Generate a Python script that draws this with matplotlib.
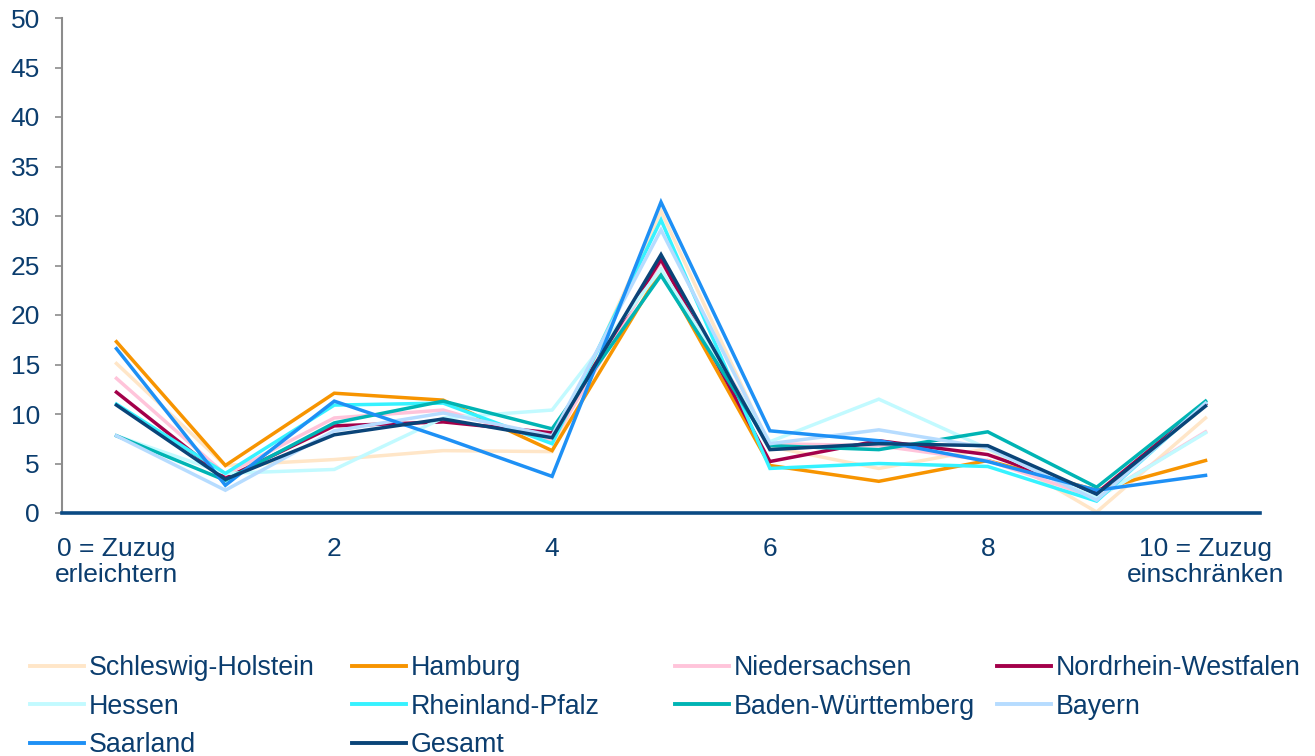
import matplotlib
matplotlib.use("Agg")
import matplotlib.pyplot as plt
from matplotlib.lines import Line2D

plt.rcParams['font.family'] = ['Liberation Sans', 'DejaVu Sans']

scale = list(range(11))
tick_labels = {0: "0 = Zuzug\nerleichtern", 2: "2", 4: "4", 6: "6", 8: "8",
               10: "10 = Zuzug\neinschränken"}

schleswig_holstein = [15.1, 4.8, 5.4, 6.3, 6.2, 30.5, 6.7, 4.5, 6.5, 0.1, 9.6]
hamburg = [17.3, 4.8, 12.1, 11.4, 6.3, 24.5, 4.8, 3.2, 5.3, 2.3, 5.3]
niedersachsen = [13.6, 3.9, 9.6, 10.4, 7.2, 25.4, 7.0, 6.8, 5.3, 1.5, 8.2]
nordrhein_westfalen = [12.2, 3.5, 8.8, 9.2, 8.1, 25.6, 5.2, 7.3, 5.9, 2.0, 11.0]
hessen = [7.8, 4.0, 4.4, 9.6, 10.4, 24.6, 7.2, 11.5, 6.5, 1.5, 8.1]
rheinland_pfalz = [11.0, 4.0, 10.9, 11.1, 7.0, 29.6, 4.5, 5.0, 4.7, 1.2, 11.1]
baden_wuerttemberg = [7.8, 3.3, 9.1, 11.3, 8.5, 24.0, 6.8, 6.4, 8.2, 2.6, 11.3]
bayern = [7.8, 2.3, 8.3, 10.1, 7.8, 28.6, 7.0, 8.4, 6.6, 1.3, 11.1]
saarland = [16.6, 2.8, 11.3, 7.6, 3.7, 31.4, 8.3, 7.3, 5.2, 2.3, 3.8]
gesamt = [10.9, 3.4, 7.9, 9.5, 7.6, 26.1, 6.4, 7.0, 6.8, 1.9, 10.8]

series = [
    ("Schleswig-Holstein", schleswig_holstein, "#FFE6C8"),
    ("Hamburg", hamburg, "#F79400"),
    ("Niedersachsen", niedersachsen, "#FFC4DA"),
    ("Nordrhein-Westfalen", nordrhein_westfalen, "#A3004A"),
    ("Hessen", hessen, "#C2FAFF"),
    ("Rheinland-Pfalz", rheinland_pfalz, "#36F2FF"),
    ("Baden-Württemberg", baden_wuerttemberg, "#00B4B4"),
    ("Bayern", bayern, "#B6DCFF"),
    ("Saarland", saarland, "#1E90F5"),
    ("Gesamt", gesamt, "#0A4478"),
]

text_color = "#0B3D6E"

fig = plt.figure(figsize=(13.15, 7.56), dpi=100)
ax = fig.add_axes([62 / 1315, 1 - 513 / 756, (1260 - 62) / 1315, (513 - 18) / 756])

handles = {}
for name, vals, col in series:
    ln, = ax.plot(scale, vals, color=col, lw=2.5, solid_joinstyle='miter',
                  label=name, clip_on=False)
    handles[name] = ln

ax.set_xlim(-0.5, 10.5)
ax.set_ylim(0, 50)
ax.set_yticks(range(0, 51, 5))
ax.set_xticks(list(tick_labels.keys()))
ax.set_xticklabels(list(tick_labels.values()), linespacing=1.1)

for s in ("top", "right"):
    ax.spines[s].set_visible(False)
ax.spines["left"].set_color("#8C8C8C")
ax.spines["left"].set_linewidth(1.5)
ax.spines["bottom"].set_color("#0B4A84")
ax.spines["bottom"].set_linewidth(2.6)
ax.spines["bottom"].set_zorder(5)

ax.tick_params(axis="y", colors="#8C8C8C", length=5, width=1.2,
               labelcolor=text_color, labelsize=19, pad=11)
ax.tick_params(axis="x", length=0, labelcolor=text_color, labelsize=19, pad=17)

columns = [
    ["Schleswig-Holstein", "Hessen", "Saarland"],
    ["Hamburg", "Rheinland-Pfalz", "Gesamt"],
    ["Niedersachsen", "Baden-Württemberg"],
    ["Nordrhein-Westfalen", "Bayern"],
]
col_x = [30, 352, 675, 997]
for cx, names in zip(col_x, columns):
    hs = [Line2D([], [], color=handles[n].get_color(), lw=2.8) for n in names]
    leg = fig.legend(hs, names, loc="upper left",
                     bbox_to_anchor=(cx / 1315, 1 - 655 / 756),
                     frameon=False, fontsize=19.3, handlelength=2.0,
                     handletextpad=0.2, labelspacing=0.47,
                     borderaxespad=0, borderpad=0)
    for t in leg.get_texts():
        t.set_color(text_color)

fig.savefig("out.png", dpi=100)
